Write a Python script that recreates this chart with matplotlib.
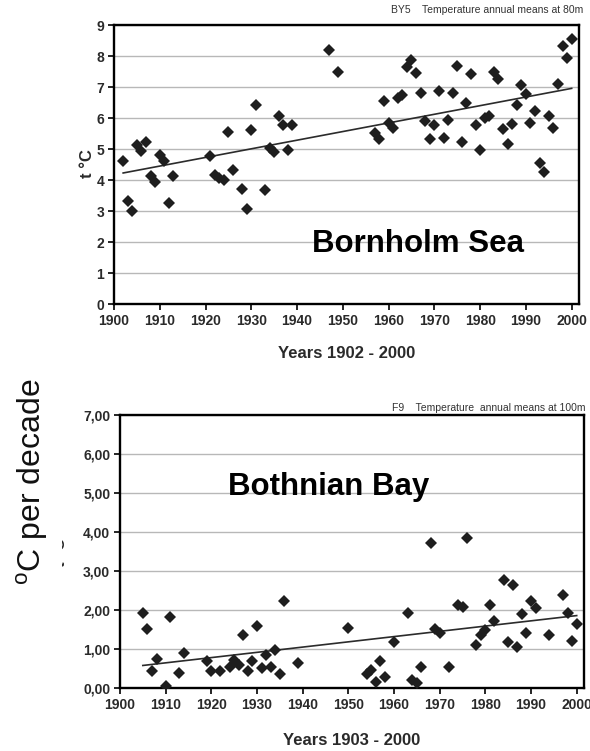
import numpy as np
import matplotlib
matplotlib.use("Agg")
import matplotlib.pyplot as plt
from matplotlib.transforms import Bbox, TransformedBbox
from matplotlib.ticker import FuncFormatter, MultipleLocator

# BY5 - Bornholm Sea, annual means at 80 m
by5_years = [1902, 1903, 1904, 1905, 1906, 1907, 1908, 1909, 1910, 1911, 1912, 1913,
             1921, 1922, 1923, 1924, 1925, 1926, 1928, 1929, 1930, 1931, 1933, 1934,
             1935, 1936, 1937, 1938, 1939, 1947, 1949, 1957, 1958, 1959, 1960, 1961,
             1962, 1963, 1964, 1965, 1966, 1967, 1968, 1969, 1970, 1971, 1972, 1973,
             1974, 1975, 1976, 1977, 1978, 1979, 1980, 1981, 1982, 1983, 1984, 1985,
             1986, 1987, 1988, 1989, 1990, 1991, 1992, 1993, 1994, 1995, 1996, 1997,
             1998, 1999, 2000]
by5_temp = [4.62, 3.31, 2.99, 5.13, 4.94, 5.22, 4.12, 3.93, 4.82, 4.60, 3.25, 4.14,
            4.78, 4.17, 4.08, 4.00, 5.54, 4.32, 3.71, 3.07, 5.62, 6.42, 3.68, 5.03,
            4.89, 6.07, 5.76, 4.97, 5.78, 8.20, 7.48, 5.51, 5.33, 6.55, 5.83, 5.69,
            6.64, 6.75, 7.66, 7.87, 7.44, 6.80, 5.89, 5.33, 5.78, 6.87, 5.37, 5.92,
            6.80, 7.69, 5.22, 6.48, 7.41, 5.76, 4.97, 5.99, 6.08, 7.48, 7.25, 5.64,
            5.16, 5.80, 6.42, 7.07, 6.78, 5.83, 6.23, 4.56, 4.27, 6.05, 5.67, 7.10,
            8.32, 7.95, 8.55]

# F9 - Bothnian Bay, annual means at 100 m
f9_years = [1905, 1906, 1907, 1908, 1910, 1911, 1913, 1914, 1919, 1920, 1922, 1924,
            1925, 1926, 1927, 1928, 1929, 1930, 1931, 1932, 1933, 1934, 1935, 1936,
            1939, 1950, 1954, 1955, 1956, 1957, 1958, 1960, 1963, 1964, 1965, 1966,
            1968, 1969, 1970, 1972, 1974, 1975, 1976, 1978, 1979, 1980, 1981, 1982,
            1984, 1985, 1986, 1987, 1988, 1989, 1990, 1991, 1994, 1997, 1998, 1999,
            2000]
f9_temp = [1.92, 1.51, 0.43, 0.75, 0.06, 1.83, 0.38, 0.90, 0.70, 0.43, 0.44, 0.53,
           0.72, 0.60, 1.35, 0.44, 0.68, 1.58, 0.51, 0.85, 0.53, 0.98, 0.37, 2.22,
           0.64, 1.54, 0.35, 0.45, 0.15, 0.70, 0.27, 1.17, 1.92, 0.21, 0.12, 0.55,
           3.71, 1.52, 1.42, 0.55, 2.14, 2.07, 3.84, 1.11, 1.37, 1.49, 2.14, 1.73,
           2.77, 1.17, 2.65, 1.04, 1.90, 1.41, 2.24, 2.05, 1.35, 2.39, 1.92, 1.21,
           1.65]

x_ticks = list(range(1900, 2001, 10))

plt.rcParams["font.family"] = ["Liberation Sans", "DejaVu Sans"]
plt.rcParams["mathtext.fontset"] = "custom"
plt.rcParams["mathtext.rm"] = "Liberation Sans"

W, H = 590, 751
fig = plt.figure(figsize=(W / 100, H / 100), dpi=100)

dark = "#1e1e1e"
grid_col = "#b8b8b8"
narrow = ["Liberation Sans Narrow", "Liberation Sans", "DejaVu Sans"]


def style_axes(ax, ymax, fmt):
    ax.set_xlim(1900, 2001.6)
    ax.set_ylim(0, ymax)
    ax.set_xticks(x_ticks)
    ax.yaxis.set_major_locator(MultipleLocator(1))
    ax.yaxis.set_major_formatter(FuncFormatter(fmt))
    ax.grid(axis="y", color=grid_col, linewidth=1.0)
    ax.set_axisbelow(True)
    for s in ax.spines.values():
        s.set_linewidth(1.7)
        s.set_color("black")
    ax.tick_params(direction="out", length=4, width=1.2, colors="black",
                   labelcolor="#2a2a2a", labelsize=10, pad=3)
    for lab in ax.get_xticklabels() + ax.get_yticklabels():
        lab.set_fontweight("bold")


def scatter_trend(ax, yrs, vals):
    yrs = np.asarray(yrs, dtype=float)
    vals = np.asarray(vals, dtype=float)
    ax.plot(yrs, vals, linestyle="none", marker="D", markersize=5.8,
            color=dark, markeredgewidth=0, zorder=3)
    k, b = np.polyfit(yrs, vals, 1)
    xs = np.array([yrs.min(), yrs.max()])
    ax.plot(xs, k * xs + b, color="#2b2b2b", linewidth=1.2, zorder=2)


# ---------- top: Bornholm Sea ----------
ax1 = fig.add_axes([114 / W, 1 - 304 / H, 465 / W, 279 / H])
scatter_trend(ax1, by5_years, by5_temp)
style_axes(ax1, 9, lambda v, p: f"{v:.0f}")
ax1.set_xlabel("Years 1902 - 2000", fontsize=12, fontweight="bold",
               color="#2a2a2a", labelpad=13)
ax1.text(1943.2, 1.68, "Bornholm Sea", fontsize=22.5, fontweight="bold",
         ha="left", va="baseline", color="black")
fig.text(87 / W, 1 - 164 / H, "t °C", rotation=90, fontsize=12,
         fontweight="bold", color="#2a2a2a", ha="center", va="center")
fig.text(583 / W, 1 - 10 / H, "BY5    Temperature annual means at 80m",
         fontsize=7.5, family=narrow, color="#333333", ha="right", va="center")

# ---------- bottom: Bothnian Bay ----------
ax2 = fig.add_axes([120 / W, 1 - 688 / H, 464 / W, 273 / H])
scatter_trend(ax2, f9_years, f9_temp)
style_axes(ax2, 7, lambda v, p: f"{v:.2f}".replace(".", ","))
ax2.set_xlabel("Years 1903 - 2000", fontsize=12, fontweight="bold",
               color="#2a2a2a", labelpad=15)
ax2.text(1923.7, 4.95, "Bothnian Bay", fontsize=22.5, fontweight="bold",
         ha="left", va="baseline", color="black")
fig.text(585 / W, 1 - 408 / H, "F9    Temperature  annual means at 100m",
         fontsize=7.5, family=narrow, color="#333333", ha="right", va="center")

# leftover of the original y label, mostly covered by the big label
frag = fig.text(61 / W, 1 - 553 / H, "t °C", rotation=90, fontsize=12,
                fontweight="bold", color="#2a2a2a", ha="center", va="center")
frag.set_clip_box(TransformedBbox(Bbox([[62 / W, 0], [1, 1]]), fig.transFigure))
frag.set_clip_on(True)

fig.text(32 / W, 1 - 482 / H, r"$^{\rm o}$C per decade", rotation=90,
         fontsize=23, color="#111111", ha="center", va="center")

fig.savefig("out.png", dpi=100, facecolor="white")
